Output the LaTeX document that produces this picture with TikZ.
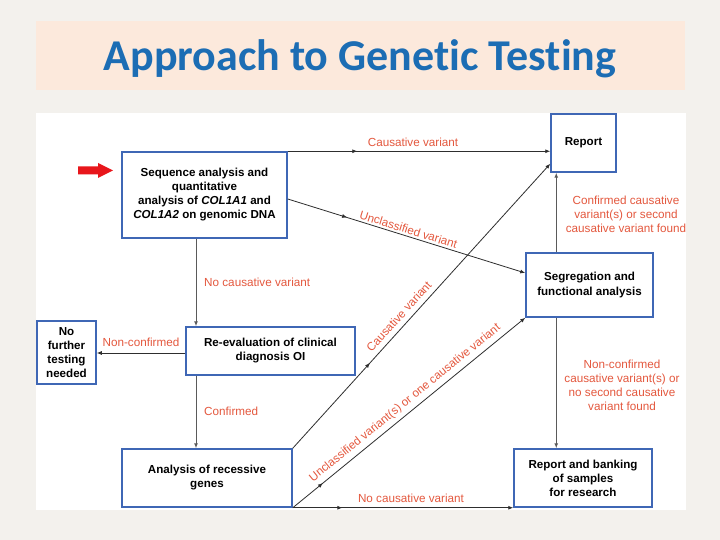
\documentclass[tikz,border=0pt]{standalone}
\usepackage{fontspec}
\setmainfont{Liberation Sans}
\newfontfamily\titlefont[Ligatures={NoCommon,NoRequired,NoContextual}]{Carlito}
\usetikzlibrary{arrows.meta,decorations.markings,calc}
\definecolor{pagebg}{HTML}{F3F1ED}
\definecolor{bandbg}{HTML}{FCE9DC}
\definecolor{titleblue}{HTML}{1C6DB4}
\definecolor{boxblue}{HTML}{3F67B5}
\definecolor{labred}{HTML}{E4583E}
\definecolor{linedark}{HTML}{2E2E2E}
\definecolor{linegray}{HTML}{5A5A5A}
\definecolor{startred}{HTML}{E8161B}
\begin{document}
\begin{tikzpicture}[x=1pt,y=-1pt,
  box/.style={draw=boxblue, line width=1.5pt, fill=white, align=center,
    font=\fontsize{11.6}{14}\selectfont\bfseries, inner sep=2pt},
  conn/.style={draw=linedark, line width=0.8pt, -{Latex[length=5pt,width=4pt]}},
  vconn/.style={conn, draw=linegray, line width=1pt},
  lab/.style={text=labred, font=\fontsize{11.7}{14}\selectfont, align=center, inner sep=1pt},
  midarrow/.style={postaction={decorate}, decoration={markings,
    mark=at position #1 with {\arrow{Latex[length=5pt,width=4pt]}}}},
]
\useasboundingbox (0,0) rectangle (720,540);
\fill[pagebg] (0,0) rectangle (720,540);
\fill[bandbg] (36,21) rectangle (685,90);
\node[font=\titlefont\bfseries\fontsize{44}{50}\selectfont, text=titleblue, anchor=base] (title) at (360,71) {Approach to Genetic Testing};
\fill[white] (36,113) rectangle (686,510);

% start arrow
\fill[startred] (78,166.5) -- (98,166.5) -- (98,163) -- (113,170.5) -- (98,178) -- (98,174.5) -- (78,174.5) -- cycle;

% boxes
\node[box, minimum width=165, minimum height=86] (seq) at (204.5,195)
  {Sequence analysis and\\quantitative\\analysis of \textit{COL1A1} and\\\textit{COL1A2} on genomic DNA};
\node[box, minimum width=65, minimum height=58] (report) at (583.5,143) {Report};
\node[box, minimum width=127, minimum height=64] (seg) at (589.5,285) {Segregation and\\functional analysis};
\node[box, minimum width=59, minimum height=63] (nofurther) at (66.5,352.5) {No\\further\\testing\\needed};
\node[box, minimum width=169, minimum height=48] (reeval) at (270.5,351) {Re-evaluation of clinical\\diagnosis OI};
\node[box, minimum width=170, minimum height=58] (recessive) at (207,478) {Analysis of recessive\\genes};
\node[box, minimum width=138, minimum height=58] (bank) at (583,478) {Report and banking\\of samples\\for research};

% connectors
\draw[conn, midarrow=0.265] (seq.north east) -- (seq.north east -| report.west);
\node[lab] (l1) at (413,142) {Causative variant};

\draw[conn, midarrow=0.25] ($(seq.east)+(0,4)$) -- node[lab, sloped, above=1pt] (l2) {Unclassified variant} ($(seg.west)+(0,-12)$);

\draw[vconn] (seq.south -| 196,0) -- (reeval.north -| 196,0);
\node[lab, anchor=west] (l3) at (203,282) {No causative variant};

\coordinate (rvw) at ($(reeval.west)+(0,2)$);
\draw[conn] (rvw) -- (rvw -| nofurther.east);
\node[lab] (l4) at (141,342) {Non-confirmed};

\draw[vconn] (reeval.south -| 196,0) -- (recessive.north -| 196,0);
\node[lab, anchor=west] (l5) at (203,411) {Confirmed};

\draw[conn, midarrow=0.3] (recessive.north east) -- node[lab, sloped, above=4pt, pos=0.44] (l6) {Causative variant} ($(report.south west)+(0,-9)$);

\draw[conn, midarrow=0.13] (recessive.south east) -- node[lab, sloped, above=3pt, pos=0.51] (l7) {Unclassified variant(s) or one causative variant} (seg.south west);

\draw[conn, midarrow=0.225] (recessive.south east) -- (bank.south west);
\node[lab] (l8) at (411,498) {No causative variant};

\coordinate (segtop) at ($(seg.north west)+(31,0)$);
\draw[vconn] (segtop) -- (segtop |- report.south);
\node[lab] (l9) at (626,214) {Confirmed causative\\variant(s) or second\\causative variant found};

\coordinate (segbot) at ($(seg.south west)+(31,0)$);
\draw[vconn] (segbot) -- (segbot |- bank.north);
\node[lab] (l10) at (622,385) {Non-confirmed\\causative variant(s) or\\no second causative\\variant found};
\end{tikzpicture}
\end{document}
